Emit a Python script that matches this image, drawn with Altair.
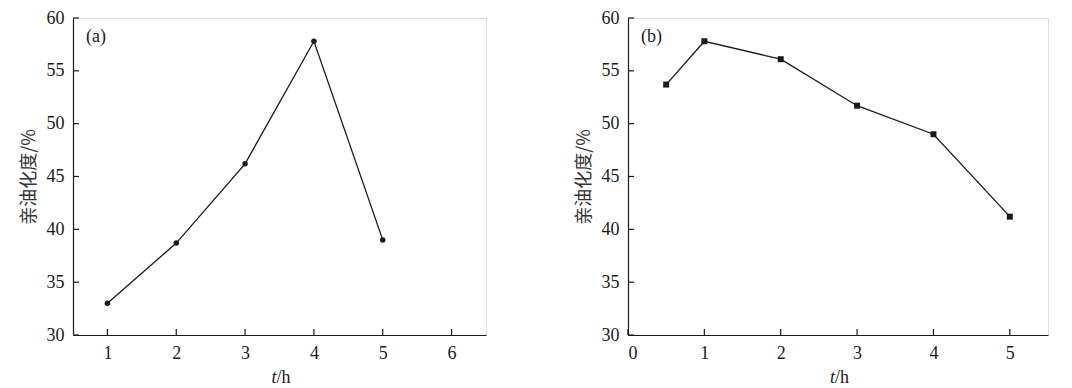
import altair as alt
import pandas as pd

# Panel (a)
a_t = [1, 2, 3, 4, 5]
a_val = [33.0, 38.7, 46.2, 57.8, 39.0]
a_xticks = [1, 2, 3, 4, 5, 6]
# Panel (b)
b_t = [0.5, 1, 2, 3, 4, 5]
b_val = [53.7, 57.8, 56.1, 51.7, 49.0, 41.2]
b_xticks = [0, 1, 2, 3, 4, 5]
y_ticks = [30, 35, 40, 45, 50, 55, 60]

SERIF = "Liberation Serif, Times New Roman, serif"
CJK = "Noto Sans CJK SC"
INK = "#1a1a1a"
H = 317
TL = 6


def panel(ts, vals, xticks, xdom, W, label, shape, size):
    df = pd.DataFrame({"t": ts, "v": vals})
    xs = alt.Scale(domain=xdom, nice=False, zero=False)
    ys = alt.Scale(domain=[30, 60], nice=False, zero=False)
    xax = alt.Axis(values=xticks, ticks=False, grid=False, labelFont=SERIF,
                   labelFontSize=18, labelColor=INK, labelPadding=9,
                   domainColor=INK, domainWidth=1.2, title=None, format="d")
    yax = alt.Axis(values=y_ticks, ticks=False, grid=False, labelFont=SERIF,
                   labelFontSize=18, labelColor=INK, labelPadding=9,
                   domainColor=INK, domainWidth=1.2, title="亲油化度/%",
                   titleFont=CJK, titleFontSize=18, titleFontWeight="normal",
                   titleColor="#333333", titlePadding=8)
    line = alt.Chart(df).mark_line(color=INK, strokeWidth=1.3).encode(
        x=alt.X("t:Q", scale=xs, axis=xax),
        y=alt.Y("v:Q", scale=ys, axis=yax),
    )
    pts = alt.Chart(df).mark_point(shape=shape, filled=True, color=INK,
                                   size=size, opacity=1).encode(
        x=alt.X("t:Q", scale=xs), y=alt.Y("v:Q", scale=ys))
    xt = alt.Chart(pd.DataFrame({"k": xticks})).mark_rule(
        color=INK, strokeWidth=1.2).encode(
        x=alt.X("k:Q", scale=xs), y=alt.value(H), y2=alt.value(H - TL))
    yt = alt.Chart(pd.DataFrame({"k": y_ticks})).mark_rule(
        color=INK, strokeWidth=1.2).encode(
        y=alt.Y("k:Q", scale=ys), x=alt.value(0), x2=alt.value(TL))
    lab = alt.Chart(pd.DataFrame({"s": [label]})).mark_text(
        font=SERIF, fontSize=18, color=INK, align="left", baseline="middle").encode(
        text="s:N", x=alt.value(13), y=alt.value(19))
    t1 = alt.Chart(pd.DataFrame({"s": ["t"]})).mark_text(
        font=SERIF, fontSize=18, fontStyle="italic", color=INK, align="right",
        baseline="middle").encode(text="s:N", x=alt.value(W / 2 - 3),
                                  y=alt.value(H + 43))
    t2 = alt.Chart(pd.DataFrame({"s": ["/h"]})).mark_text(
        font=SERIF, fontSize=18, color=INK, align="left",
        baseline="middle").encode(text="s:N", x=alt.value(W / 2 - 3),
                                  y=alt.value(H + 43))
    return alt.layer(line, pts, xt, yt, lab, t1, t2).properties(width=W, height=H)


pa = panel(a_t, a_val, a_xticks, [0.5, 6.5], 413, "(a)", "circle", 30)
pb = panel(b_t, b_val, b_xticks, [0, 5.5], 420, "(b)", "square", 36)

chart = alt.hconcat(pa, pb, spacing=87).properties(
    padding={"left": 11, "top": 0, "right": 5, "bottom": 0}
).configure_view(stroke=INK, strokeWidth=1.2).configure(background="white")

chart.save("out.html", embed_options={"renderer": "svg", "actions": False})
